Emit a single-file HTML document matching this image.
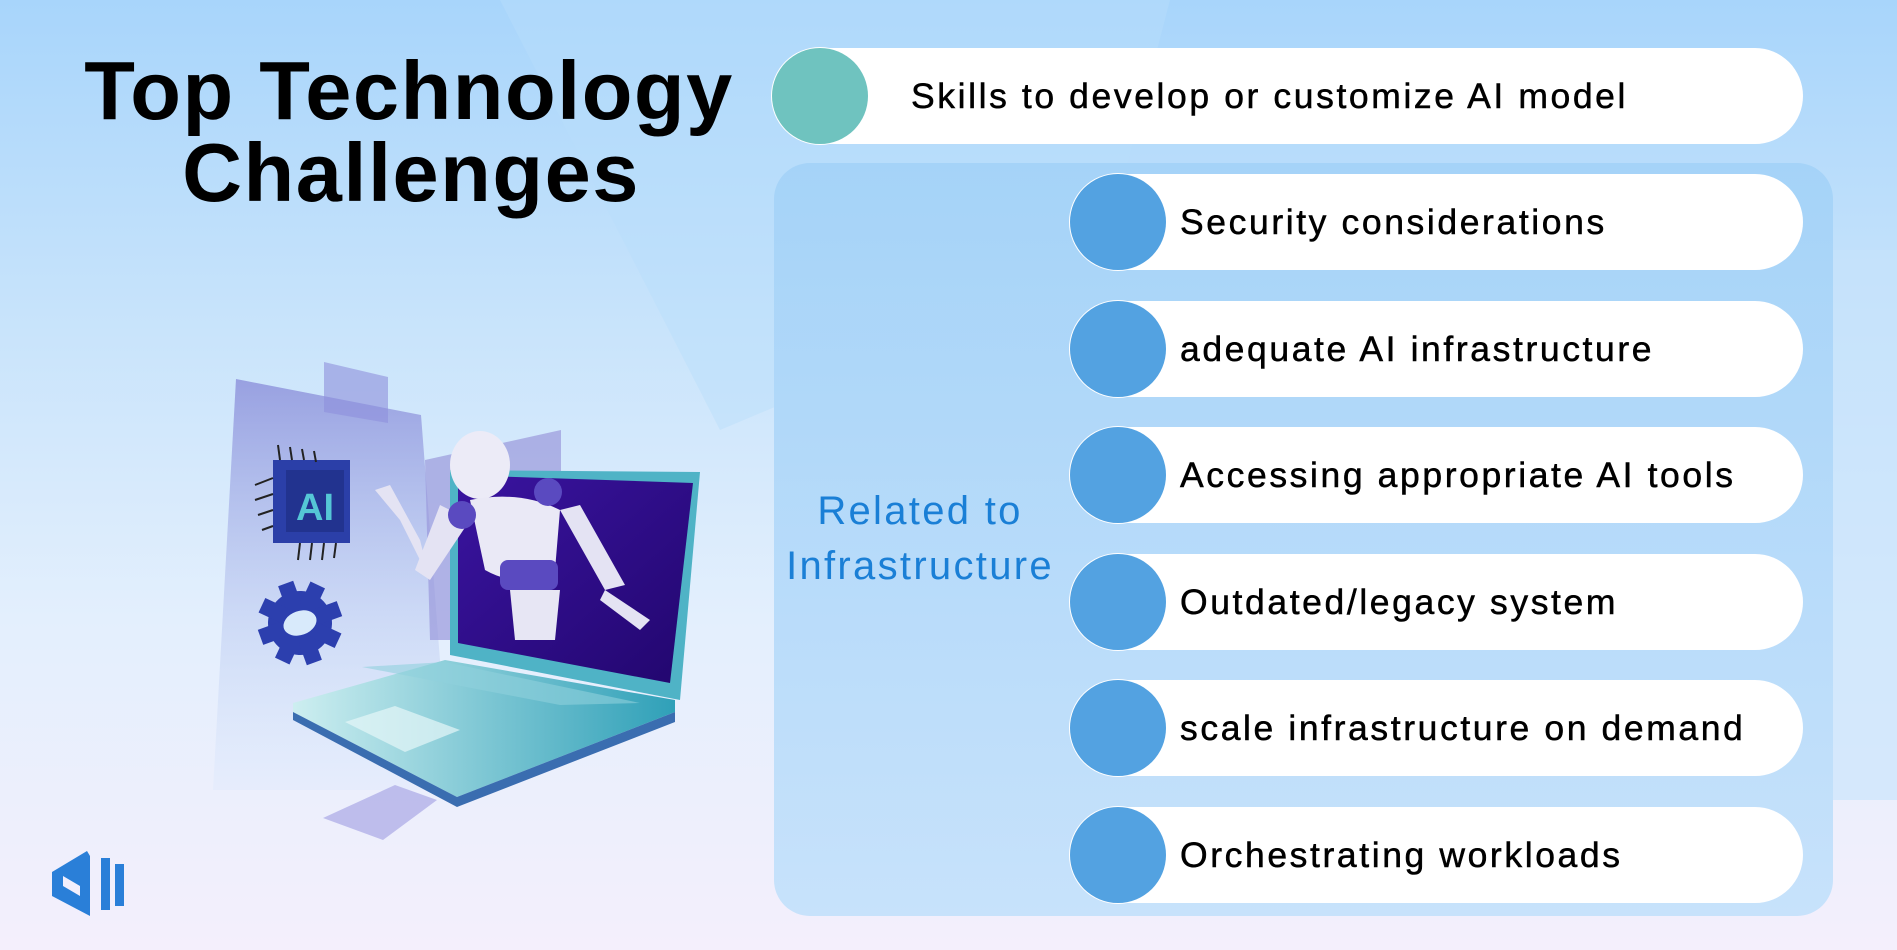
<!DOCTYPE html>
<html><head><meta charset="utf-8"><style>
*{margin:0;padding:0;box-sizing:border-box}
body{width:1897px;height:950px;overflow:hidden;position:relative;font-family:"Liberation Sans",sans-serif;
background:linear-gradient(180deg,#a8d5fb 0%,#c9e4fb 35%,#e3effd 65%,#f4effc 100%);}
.abs{position:absolute}
.title{left:0;width:822px;text-align:center;font-weight:bold;font-size:83px;color:#000;line-height:82px;letter-spacing:1.5px}
.pill{position:absolute;left:1070px;width:733px;height:96px;background:#fff;border-radius:48px}
.pill .c{position:absolute;left:0;top:0;width:96px;height:96px;border-radius:50%;background:#53a2e1;box-shadow:0 0 0 1px #fff}
.pill span{position:absolute;left:110px;top:0;line-height:96px;font-size:35.5px;color:#000;letter-spacing:2.6px;white-space:nowrap;-webkit-text-stroke:0.5px #000}
</style></head><body>
<svg class="abs" style="left:0;top:0" width="1897" height="950">
<polygon points="500,0 1170,0 1100,270 720,430" fill="#b9ddfa" opacity="0.45"/>
<polygon points="1780,250 1897,250 1897,800 1820,800" fill="#c6e2fb" opacity="0.6"/>
</svg>
<div class="abs title" style="top:50px;left:-2px">Top Technology</div>
<div class="abs title" style="top:132px">Challenges</div>

<div class="abs" style="left:774px;top:48px;width:1029px;height:96px;background:#fff;border-radius:48px"></div>
<div class="abs" style="left:772px;top:48px;width:96px;height:96px;border-radius:50%;background:#6fc3bf;box-shadow:0 0 0 1px #fff"></div>
<div class="abs" style="left:911px;top:48px;line-height:96px;font-size:35.5px;letter-spacing:2.6px;white-space:nowrap;-webkit-text-stroke:0.5px #000">Skills to develop or customize AI model</div>

<div class="abs" style="left:774px;top:163px;width:1059px;height:753px;border-radius:36px;background:linear-gradient(180deg,#a5d3f8,#c7e2fb)"></div>
<div class="abs" style="left:760px;top:484px;width:320px;text-align:center;color:#1a7fd6;font-size:40px;line-height:55px;letter-spacing:2.3px">Related to<br>Infrastructure</div>

<div class="pill" style="top:174px"><div class="c"></div><span>Security considerations</span></div>
<div class="pill" style="top:301px"><div class="c"></div><span>adequate AI infrastructure</span></div>
<div class="pill" style="top:427px"><div class="c"></div><span>Accessing appropriate AI tools</span></div>
<div class="pill" style="top:554px"><div class="c"></div><span>Outdated/legacy system</span></div>
<div class="pill" style="top:680px"><div class="c"></div><span>scale infrastructure on demand</span></div>
<div class="pill" style="top:807px"><div class="c"></div><span>Orchestrating workloads</span></div>

<svg class="abs" style="left:0;top:0" width="760" height="950">
<defs>
<linearGradient id="bp" x1="0" y1="0" x2="0" y2="1"><stop offset="0" stop-color="#8f94dc" stop-opacity="0.85"/><stop offset="1" stop-color="#cfe3fb" stop-opacity="0.2"/></linearGradient>
<linearGradient id="lb" x1="0" y1="0" x2="1" y2="0"><stop offset="0" stop-color="#cdeef0"/><stop offset="1" stop-color="#2fa0b8"/></linearGradient>
<linearGradient id="sc" x1="0" y1="0" x2="1" y2="1"><stop offset="0" stop-color="#3a14a0"/><stop offset="1" stop-color="#22066e"/></linearGradient>
</defs>
<polygon points="236,379 421,415 450,790 213,790" fill="url(#bp)"/>
<polygon points="324,362 388,377 388,423 324,412" fill="#8e8fdc" opacity="0.6"/>
<polygon points="425,460 561,430 561,640 430,640" fill="#9a98dc" opacity="0.7"/>
<polygon points="450,470 700,472 680,700 450,655" fill="#4fb3c6"/>
<polygon points="458,475 693,483 670,683 458,643" fill="url(#sc)"/>
<polygon points="293,703 445,660 675,700 675,712 457,797 293,712" fill="url(#lb)"/>
<polygon points="293,712 457,797 675,712 675,722 457,807 293,720" fill="#3a6db0"/>
<polygon points="362,667 445,662 640,703 560,705" fill="#8fd0dc" opacity="0.6"/>
<polygon points="345,722 395,706 460,730 405,752" fill="#e6f6f8" opacity="0.7"/>
<polygon points="323,818 395,785 437,800 383,840" fill="#a9a8e6" opacity="0.7"/>
<ellipse cx="480" cy="465" rx="30" ry="34" fill="#ecebf7"/>
<path d="M470 500 Q520 490 560 510 L555 570 Q520 590 485 570 Z" fill="#eae9f6"/>
<rect x="500" y="560" width="58" height="30" rx="8" fill="#5a4ac0"/>
<path d="M510 590 L560 590 L555 640 L515 640 Z" fill="#e7e6f4"/>
<path d="M560 510 L605 590 L625 585 L580 505 Z" fill="#e4e3f3"/>
<path d="M605 590 L650 620 L640 630 L600 600 Z" fill="#e4e3f3"/>
<path d="M470 520 L430 580 L415 570 L440 505 Z" fill="#e4e3f3"/>
<path d="M430 580 L400 520 L375 490 L390 485 L420 540 Z" fill="#e4e3f3"/>
<circle cx="462" cy="515" r="14" fill="#5a4ac0"/>
<circle cx="548" cy="492" r="14" fill="#5a4ac0"/>
<rect x="273" y="460" width="77" height="83" fill="#2b3fa8"/>
<rect x="286" y="470" width="58" height="62" fill="#22338f"/>
<text x="315" y="520" text-anchor="middle" font-family="Liberation Sans" font-weight="bold" font-size="38" fill="#55c6d6">AI</text>
<g stroke="#222" stroke-width="2"><line x1="255" y1="485" x2="273" y2="478"/><line x1="255" y1="500" x2="273" y2="494"/><line x1="258" y1="515" x2="273" y2="510"/><line x1="262" y1="530" x2="273" y2="526"/>
<line x1="300" y1="543" x2="298" y2="560"/><line x1="312" y1="543" x2="310" y2="560"/><line x1="324" y1="543" x2="322" y2="560"/><line x1="336" y1="543" x2="334" y2="558"/>
<line x1="280" y1="460" x2="278" y2="445"/><line x1="292" y1="460" x2="290" y2="447"/><line x1="304" y1="460" x2="302" y2="449"/><line x1="316" y1="462" x2="314" y2="451"/></g>
<g transform="translate(300,623) rotate(-20)">
<circle r="32" fill="#2c3fae"/>
<g fill="#2c3fae"><rect x="-8" y="-42" width="16" height="84"/><rect x="-42" y="-8" width="84" height="16"/><rect x="-8" y="-42" width="16" height="84" transform="rotate(45)"/><rect x="-8" y="-42" width="16" height="84" transform="rotate(-45)"/></g>
<ellipse rx="17" ry="12" fill="#d8eafb"/>
</g>
<polygon points="87,851 90,856 90,916 52,896 52,872" fill="#2a7fd8"/>
<polygon points="63,876 80,886 80,896 63,886" fill="#f3effc"/>
<rect x="101" y="858" width="9" height="52" fill="#2a7fd8"/>
<rect x="115" y="864" width="9" height="42" fill="#2a7fd8"/>
</svg>
</body></html>
